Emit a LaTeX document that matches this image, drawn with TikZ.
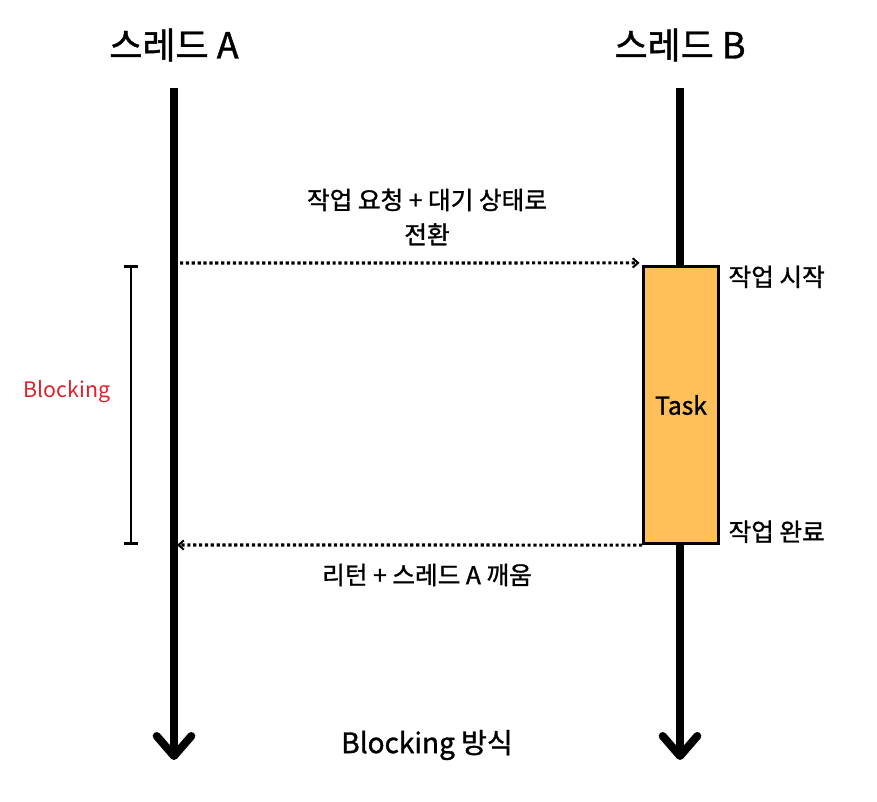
\documentclass[tikz,border=0pt]{standalone}
\usepackage{fontspec}
\setmainfont{Noto Sans CJK KR}[BoldFont=Noto Sans CJK KR,BoldFeatures={FakeBold=1.2}]
\usetikzlibrary{arrows.meta}
\definecolor{taskfill}{HTML}{FFC05A}
\definecolor{blockred}{HTML}{E0202A}

\begin{document}
\begin{tikzpicture}[x=0.75pt,y=-0.75pt,
  thread/.style = {line width=6pt,-{Straight Barb[length=15pt,width=26pt,line cap=round,line join=round]}},
  callarrow/.style = {line width=2.4pt,dotted,-{Straight Barb[length=4pt,width=7pt,line width=1.5pt]}},
  title/.style = {font=\fontsize{27}{30}\selectfont\bfseries},
  lbl/.style = {font=\fontsize{18.5}{26}\selectfont\bfseries,align=center},
  taskbox/.style = {draw,line width=2.2pt,fill=taskfill,minimum width=56pt,
        minimum height=208pt,font=\fontsize{18.5}{20}\selectfont\bfseries}]
 \useasboundingbox (0,0) rectangle (877,802);
 % threads
 \node[title] (ta) at (174,45) {스레드 A};
 \node[title] (tb) at (680,45) {스레드 B};
 \coordinate (ta0) at (174,88);
 \coordinate (ta1) at (174,760);
 \coordinate (tb0) at (680,88);
 \coordinate (tb1) at (680,760);
 \draw[thread] (ta0) -- (ta1);
 \draw[thread] (tb0) -- (tb1);
 % task on thread B
 \node[taskbox] (task) at (681,405) {Task};
 \node[lbl,anchor=west] (start) at ([xshift=3pt,yshift=-9pt]task.north east) {작업 시작};
 \node[lbl,anchor=west] (done) at ([xshift=3pt,yshift=10pt]task.south east) {작업 완료};
 % request / return
 \coordinate (req) at (180,263);
 \coordinate (ret) at (177,545);
 \draw[callarrow] (req) -- ([xshift=-2pt,yshift=1.5pt]task.north west);
 \draw[callarrow] (task.south west) -- (ret);
 \node[lbl] (reqlbl) at (427,217) {작업 요청 + 대기 상태로\\전환};
 \node[lbl] (retlbl) at (427,575) {리턴 + 스레드 A 깨움};
 % blocking span
 \coordinate (bl0) at (131,265);
 \coordinate (bl1) at (131,545);
 \draw[line width=2.2pt,{Bar[width=10pt]}-{Bar[width=10pt]}] (bl0) -- (bl1);
 \node[font=\fontsize{16}{18}\selectfont,text=blockred] (blk) at (67,392) {Blocking};
 \node[font=\fontsize{21}{24}\selectfont\bfseries] (cap) at (427,745) {Blocking 방식};
\end{tikzpicture}
\end{document}
